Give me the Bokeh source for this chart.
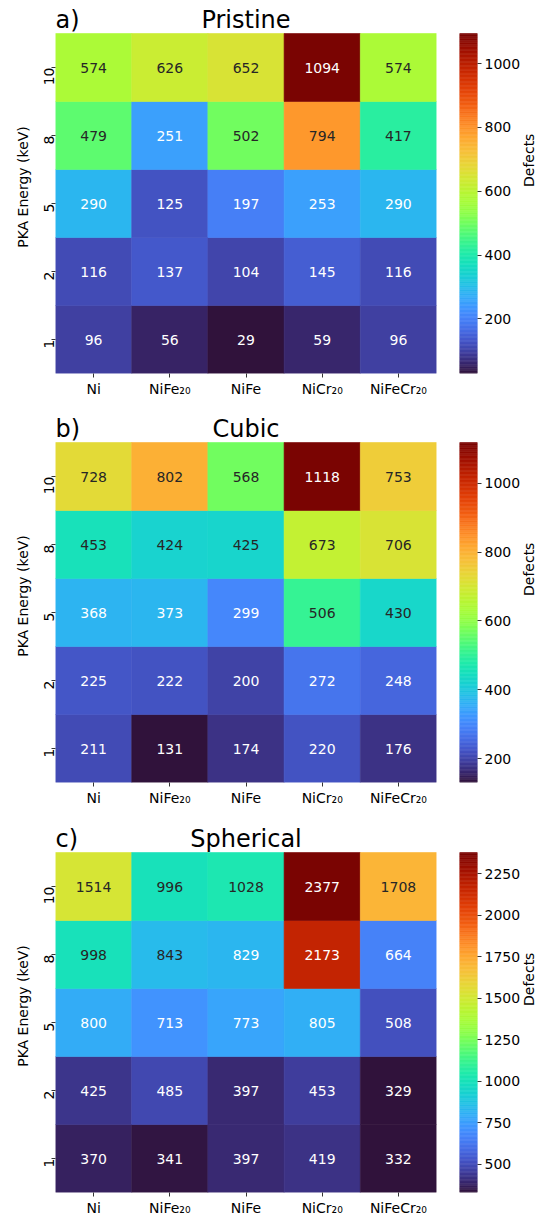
import math
from bokeh.plotting import figure
from bokeh.layouts import column, row
from bokeh.models import ColumnDataSource, LinearColorMapper, FixedTicker, Range1d
from bokeh.core.properties import value
from bokeh.palettes import Turbo256
from bokeh.embed import file_html
from bokeh.resources import INLINE

# ---- data -------------------------------------------------------------
alloys = ["Ni", "NiFe20", "NiFe", "NiCr20", "NiFeCr20"]
alloy_labels = ["Ni", "NiFe₂₀", "NiFe", "NiCr₂₀", "NiFeCr₂₀"]
energies = ["1", "2", "5", "8", "10"]          # keV, bottom to top

# rows follow `energies`, columns follow `alloys`
pristine = [
    [96, 56, 29, 59, 96],
    [116, 137, 104, 145, 116],
    [290, 125, 197, 253, 290],
    [479, 251, 502, 794, 417],
    [574, 626, 652, 1094, 574],
]
cubic = [
    [211, 131, 174, 220, 176],
    [225, 222, 200, 272, 248],
    [368, 373, 299, 506, 430],
    [453, 424, 425, 673, 706],
    [728, 802, 568, 1118, 753],
]
spherical = [
    [370, 341, 397, 419, 332],
    [425, 485, 397, 453, 329],
    [800, 713, 773, 805, 508],
    [998, 843, 829, 2173, 664],
    [1514, 996, 1028, 2377, 1708],
]

panels = [
    ("a)", "Pristine", pristine, [200, 400, 600, 800, 1000]),
    ("b)", "Cubic", cubic, [200, 400, 600, 800, 1000]),
    ("c)", "Spherical", spherical, [500, 750, 1000, 1250, 1500, 1750, 2000, 2250]),
]

FONT = "DejaVu Sans"
FS = "14px"
N_COL, N_ROW = len(alloys), len(energies)
CELLS_W, CELLS_H = 381, 340          # size of the coloured grid in px
TITLE_ZONE = 33                      # px kept above the grid for the titles
TITLE_LIFT = 14                      # px between grid top and title text
FRAME_H = CELLS_H + TITLE_ZONE
LEFT, GAP, BAR_W = 55, 23, 18
TOTAL_W = 545


def luminance(hex_color):
    rgb = [int(hex_color[i:i + 2], 16) / 255 for i in (1, 3, 5)]
    lin = [c / 12.92 if c <= 0.03928 else ((c + 0.055) / 1.055) ** 2.4 for c in rgb]
    return 0.2126 * lin[0] + 0.7152 * lin[1] + 0.0722 * lin[2]


def style_axis(ax):
    ax.axis_line_color = None
    ax.major_tick_in = 0
    ax.major_tick_out = 4
    ax.major_tick_line_color = "#333333"
    ax.minor_tick_line_color = None
    ax.major_label_text_font = FONT
    ax.major_label_text_font_size = FS
    ax.major_label_text_color = "#000000"
    ax.major_label_standoff = 3
    ax.axis_label_text_font = FONT
    ax.axis_label_text_font_size = FS
    ax.axis_label_text_font_style = "normal"
    ax.axis_label_text_color = "#000000"


def heatmap(tag, name, grid, border_bottom):
    flat = [v for r in grid for v in r]
    lo, hi = min(flat), max(flat)
    mapper = LinearColorMapper(palette=Turbo256, low=lo, high=hi)

    xs, ys, vals, txt, tcol = [], [], [], [], []
    for r in range(N_ROW):
        for c in range(N_COL):
            v = grid[r][c]
            xs.append(c + 0.5)
            ys.append(r + 0.5)
            vals.append(v)
            txt.append(str(v))
            idx = min(255, int((v - lo) / (hi - lo) * 256))
            tcol.append("#262626" if luminance(Turbo256[idx]) > 0.408 else "#ffffff")
    src = ColumnDataSource(dict(x=xs, y=ys, v=vals, t=txt, tc=tcol))

    top = N_ROW * (1 + TITLE_ZONE / CELLS_H)
    p = figure(x_range=Range1d(0, N_COL), y_range=Range1d(0, top),
               frame_width=CELLS_W, frame_height=FRAME_H,
               min_border_left=LEFT, min_border_right=GAP,
               min_border_top=0, min_border_bottom=border_bottom,
               output_backend="svg", toolbar_location=None)
    cmap = {"field": "v", "transform": mapper}
    p.rect(x="x", y="y", width=1, height=1, source=src,
           fill_color=cmap, line_color=cmap, line_width=0.6)
    p.text(x="x", y="y", text="t", source=src, text_color="tc",
           text_align="center", text_baseline="middle",
           text_font=value(FONT), text_font_size=FS)

    title_y = N_ROW + TITLE_LIFT * N_ROW / CELLS_H
    p.text(x=[0], y=[title_y], text=[tag], text_align="left",
           text_baseline="alphabetic", text_font=value(FONT),
           text_font_size="24px", text_color="#000000")
    p.text(x=[N_COL / 2], y=[title_y], text=[name], text_align="center",
           text_baseline="alphabetic", text_font=value(FONT),
           text_font_size="24px", text_color="#000000")

    p.grid.visible = False
    p.outline_line_color = None
    style_axis(p.xaxis[0])
    style_axis(p.yaxis[0])
    centers = [i + 0.5 for i in range(N_COL)]
    p.xaxis.ticker = FixedTicker(ticks=centers)
    p.xaxis.major_label_overrides = dict(zip(centers, alloy_labels))
    rows_c = [i + 0.5 for i in range(N_ROW)]
    p.yaxis.ticker = FixedTicker(ticks=rows_c)
    p.yaxis.major_label_overrides = dict(zip(rows_c, energies))
    p.yaxis.major_label_orientation = math.pi / 2
    p.yaxis.axis_label = "PKA Energy (keV)"
    p.yaxis.axis_label_standoff = 5
    return p, lo, hi


def colorbar(lo, hi, ticks, border_bottom):
    n = len(Turbo256)
    step = (hi - lo) / n
    bottoms = [lo + i * step for i in range(n)]
    tops = [lo + (i + 1) * step for i in range(n)]
    extra = (hi - lo) * TITLE_ZONE / CELLS_H
    cb = figure(x_range=Range1d(0, 1), y_range=Range1d(lo, hi + extra),
                frame_width=BAR_W, frame_height=FRAME_H,
                min_border_left=0,
                min_border_right=TOTAL_W - LEFT - CELLS_W - GAP - BAR_W,
                min_border_top=0, min_border_bottom=border_bottom,
                x_axis_location=None, y_axis_location="right",
                output_backend="svg", toolbar_location=None)
    cb.quad(left=0, right=1, bottom=bottoms, top=tops,
            fill_color=list(Turbo256), line_color=list(Turbo256), line_width=0.6)
    cb.grid.visible = False
    cb.outline_line_color = None
    ax = cb.yaxis[0]
    style_axis(ax)
    ax.ticker = FixedTicker(ticks=ticks)
    ax.axis_label = "Defects"
    ax.axis_label_standoff = 6
    ax.axis_label_orientation = math.pi / 2
    return cb


rows = []
for (tag, name, grid, ticks), bb in zip(panels, [36, 37, 22]):
    hm, lo, hi = heatmap(tag, name, grid, bb)
    cb = colorbar(lo, hi, ticks, bb)
    rows.append(row(hm, cb, spacing=0))

layout = column(*rows, spacing=0)
open("out.html", "w").write(file_html(layout, INLINE))
